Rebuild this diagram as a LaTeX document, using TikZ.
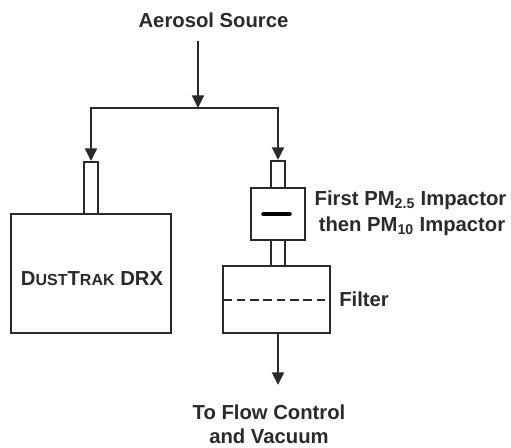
\documentclass[tikz,border=0pt]{standalone}
\usepackage{fontspec}
\setmainfont{Liberation Sans}
\usetikzlibrary{arrows.meta}
\definecolor{ink}{HTML}{2A2A2A}
\tikzset{
  x=0.75pt,y=-0.75pt,
  line/.style={draw=ink,line width=1.45pt},
  flow/.style={line,-{Triangle[length=9.5pt,width=9pt]}},
  box/.style={line,fill=white,inner sep=0pt,outer sep=0pt},
  lbl/.style={text=ink,font=\fontsize{15.2}{18}\selectfont\bfseries,inner sep=0pt,align=center},
}
\begin{document}
\begin{tikzpicture}
\useasboundingbox (0,0) rectangle (511,447);
% tubes
\node[box,minimum width=10pt,minimum height=39pt] (stubL) at (91,188) {};
\node[box,minimum width=10pt,minimum height=20.5pt] (stubR) at (278,174.5) {};
\node[box,minimum width=10pt,minimum height=19.5pt] (stubM) at (278,253) {};
% boxes
\node[box,minimum width=120pt,minimum height=89pt] (dust) at (91,273.5) {};
\node[box,minimum width=40.5pt,minimum height=39pt] (imp) at (278,214) {};
\node[box,minimum width=80pt,minimum height=50pt] (filter) at (276.5,299.5) {};
% impactor plate
\coordinate (plateL) at (263,214);
\coordinate (plateR) at (290,214);
\draw[draw=black,line width=2.6pt,line cap=round] (plateL) -- (plateR);
% filter membrane
\draw[draw=ink,dash pattern=on 6.5pt off 3.5pt,line width=1.6pt] ([yshift=-0.4pt]filter.west) -- ([yshift=-0.4pt]filter.east);
% labels
\node[lbl] (src) at (213.5,20) {Aerosol Source};
\node[lbl,anchor=center] (dtx) at (92,279) {D{\fontsize{12}{14}\selectfont UST}T{\fontsize{12}{14}\selectfont RAK} DRX};
\node[lbl] (impl1) at (410.5,200) {First PM\textsubscript{2.5} Impactor};
\node[lbl] (impl2) at (412,226) {then PM\textsubscript{10} Impactor};
\node[lbl,anchor=west] (fl) at (339,299) {Filter};
\node[lbl] (out) at (269,424) {To Flow Control\\and Vacuum};
% connectors
\coordinate (srcEnd) at (198,41);
\coordinate (junc) at (198,108);
\coordinate (juncL) at (91,108);
\coordinate (juncR) at (278,108);
\coordinate (outEnd) at (278,385);
\coordinate (tipL) at (91,161);
\coordinate (tipR) at (278,160);
\draw[flow] (srcEnd) -- (junc);
\draw[line,line cap=rect] (juncL) -- (juncR);
\draw[flow] (juncL) -- (tipL);
\draw[flow] (juncR) -- (tipR);
\draw[flow] (filter.south -| outEnd) -- (outEnd);
\end{tikzpicture}
\end{document}
